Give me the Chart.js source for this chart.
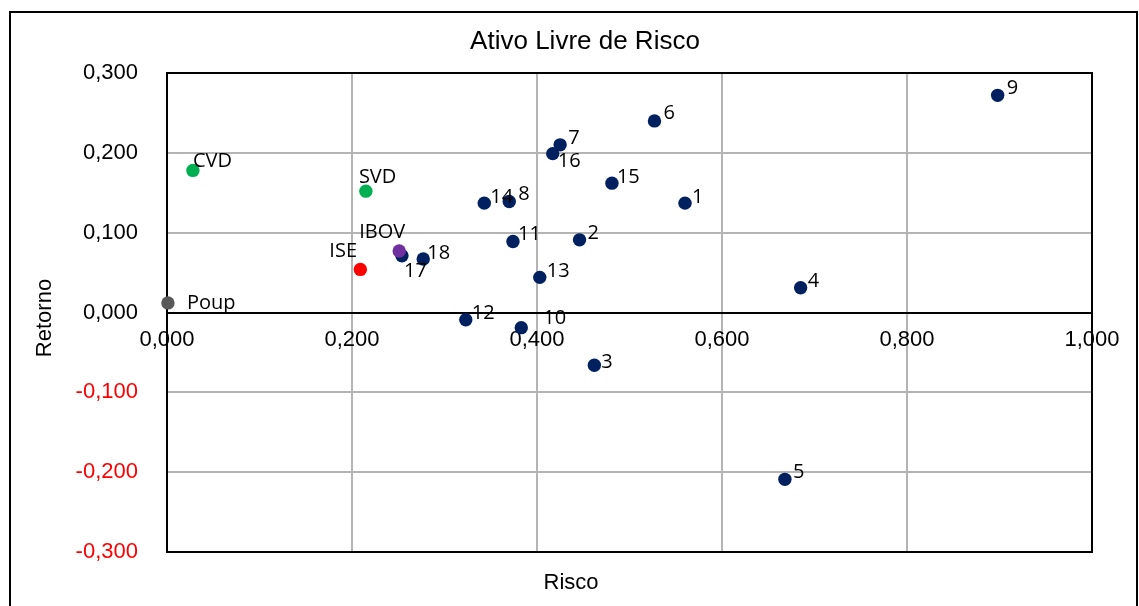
<!DOCTYPE html>
<html>
<head>
<meta charset="utf-8">
<script src="https://cdn.jsdelivr.net/npm/chart.js@4/dist/chart.umd.min.js"></script>
<style>
  html, body { margin: 0; padding: 0; background: #ffffff; }
  canvas { display: block; }
</style>
</head>
<body>
<canvas id="chart" width="1139" height="606"></canvas>
<script>
// Carteiras numeradas (risco = desvio padrão, retorno médio)
const portfolioNames  = ['1', '2', '3', '4', '5', '6', '7', '8', '9', '10', '11', '12', '13', '14', '15', '16', '17', '18'];
const portfolioRisk   = [0.560, 0.446, 0.462, 0.685, 0.668, 0.527, 0.425, 0.370, 0.898, 0.383, 0.374, 0.323, 0.403, 0.343, 0.481, 0.417, 0.254, 0.277];
const portfolioReturn = [0.137, 0.091, -0.066, 0.031, -0.209, 0.240, 0.210, 0.139, 0.272, -0.019, 0.089, -0.009, 0.044, 0.137, 0.162, 0.199, 0.071, 0.067];

// Referências de mercado
const benchmarkNames  = ['IBOV', 'ISE', 'CVD', 'SVD', 'Poup'];
const benchmarkRisk   = [0.251, 0.209, 0.028, 0.215, 0.001];
const benchmarkReturn = [0.077, 0.054, 0.178, 0.152, 0.012];
const benchmarkColors = ['#7030A0', '#FF0000', '#00B050', '#00B050', '#595959'];

// Marcas dos eixos
const riskTicks   = [0, 0.2, 0.4, 0.6, 0.8, 1.0];
const returnTicks = [-0.3, -0.2, -0.1, 0, 0.1, 0.2, 0.3];

// Deslocamento de cada rótulo em relação ao seu ponto (px)
const labelOffsets = {
  '1': [7, -6], '2': [8, -7], '3': [7, -3], '4': [7, -6], '5': [8, -7], '6': [9, -8],
  '7': [8, -7], '8': [9, -7], '9': [9, -7], '10': [22, -9], '11': [5, -7], '12': [6, -6],
  '13': [7, -6], '14': [6, -6], '15': [5, -6], '16': [5, 8], '17': [2, 15], '18': [4, -6],
  'IBOV': [-40, -19], 'ISE': [-31, -18], 'CVD': [0, -9], 'SVD': [-7, -14], 'Poup': [19, 0]
};

const NAVY = '#002060';
const fmt = v => (Math.abs(v) < 1e-9 ? 0 : v).toFixed(3).replace('.', ',');
const AXIS_FONT = 'Liberation Sans, Arial, sans-serif';
const LABEL_FONT = '"Open Sans", "Noto Sans", sans-serif';

const frame = {
  id: 'frame',
  beforeDraw(chart) {
    const { ctx } = chart;
    ctx.save();
    ctx.fillStyle = '#ffffff';
    ctx.fillRect(0, 0, chart.width, chart.height);
    ctx.strokeStyle = '#000000';
    ctx.lineWidth = 2;
    ctx.strokeRect(10, 12, 1127, 700);
    ctx.fillStyle = '#000000';
    ctx.textAlign = 'center';
    ctx.textBaseline = 'middle';
    ctx.font = '26px ' + AXIS_FONT;
    ctx.fillText('Ativo Livre de Risco', 585, 42);
    ctx.font = '22px ' + AXIS_FONT;
    ctx.fillText('Risco', 571, 583);
    ctx.translate(45, 318);
    ctx.rotate(-Math.PI / 2);
    ctx.fillText('Retorno', 0, 0);
    ctx.restore();
  },
  beforeDatasetsDraw(chart) {
    const { ctx, chartArea: a, scales } = chart;
    ctx.save();
    ctx.strokeStyle = '#000000';
    ctx.lineWidth = 2;
    ctx.strokeRect(a.left, a.top, a.right - a.left, a.bottom - a.top);
    const y0 = Math.round(scales.y.getPixelForValue(0));
    ctx.beginPath();
    ctx.moveTo(a.left, y0);
    ctx.lineTo(a.right, y0);
    ctx.stroke();
    ctx.restore();
  },
  afterDatasetsDraw(chart) {
    const { ctx } = chart;
    ctx.save();
    ctx.fillStyle = '#000000';
    ctx.font = '20px ' + LABEL_FONT;
    ctx.textAlign = 'left';
    ctx.textBaseline = 'middle';
    chart.data.datasets.forEach((ds, di) => {
      const meta = chart.getDatasetMeta(di);
      meta.data.forEach((pt, i) => {
        const name = ds.names[i];
        const off = labelOffsets[name] || [7, -7];
        ctx.fillText(name, pt.x + off[0], pt.y + off[1]);
      });
    });
    ctx.restore();
  }
};

new Chart(document.getElementById('chart'), {
  type: 'scatter',
  data: {
    datasets: [
      {
        names: benchmarkNames,
        data: benchmarkRisk.map((r, i) => ({ x: r, y: benchmarkReturn[i] })),
        backgroundColor: benchmarkColors,
        borderColor: benchmarkColors,
        borderWidth: 0,
        pointRadius: 6.7,
        clip: false
      },
      {
        names: portfolioNames,
        data: portfolioRisk.map((r, i) => ({ x: r, y: portfolioReturn[i] })),
        backgroundColor: NAVY,
        borderColor: NAVY,
        borderWidth: 0,
        pointRadius: 6.7,
        clip: false
      }
    ]
  },
  options: {
    responsive: false,
    animation: false,
    devicePixelRatio: 1,
    layout: { padding: { left: 0, top: 73, right: 47, bottom: 54 } },
    plugins: { legend: { display: false }, tooltip: { enabled: false }, title: { display: false } },
    scales: {
      x: {
        type: 'linear',
        position: { y: 0 },
        min: 0, max: 1,
        afterBuildTicks: s => { s.ticks = riskTicks.map(v => ({ value: v })); },
        afterFit: s => { s.height = 0; },
        border: { display: false },
        grid: { color: '#b4b4b4', lineWidth: 2, drawTicks: false },
        ticks: {
          padding: 14,
          maxRotation: 0,
          autoSkip: false,
          color: '#000000',
          font: { family: AXIS_FONT, size: 22 },
          callback: v => fmt(v)
        }
      },
      y: {
        type: 'linear',
        position: 'left',
        min: -0.3, max: 0.3,
        afterBuildTicks: s => { s.ticks = returnTicks.map(v => ({ value: v })); },
        afterFit: s => { s.width = 167; },
        border: { display: false },
        grid: { color: '#b4b4b4', lineWidth: 2, drawTicks: false },
        ticks: {
          padding: 29,
          autoSkip: false,
          font: { family: AXIS_FONT, size: 22 },
          color: c => (c.tick && c.tick.value < 0 ? '#FF0000' : '#000000'),
          callback: v => fmt(v)
        }
      }
    }
  },
  plugins: [frame]
});
</script>
</body>
</html>
